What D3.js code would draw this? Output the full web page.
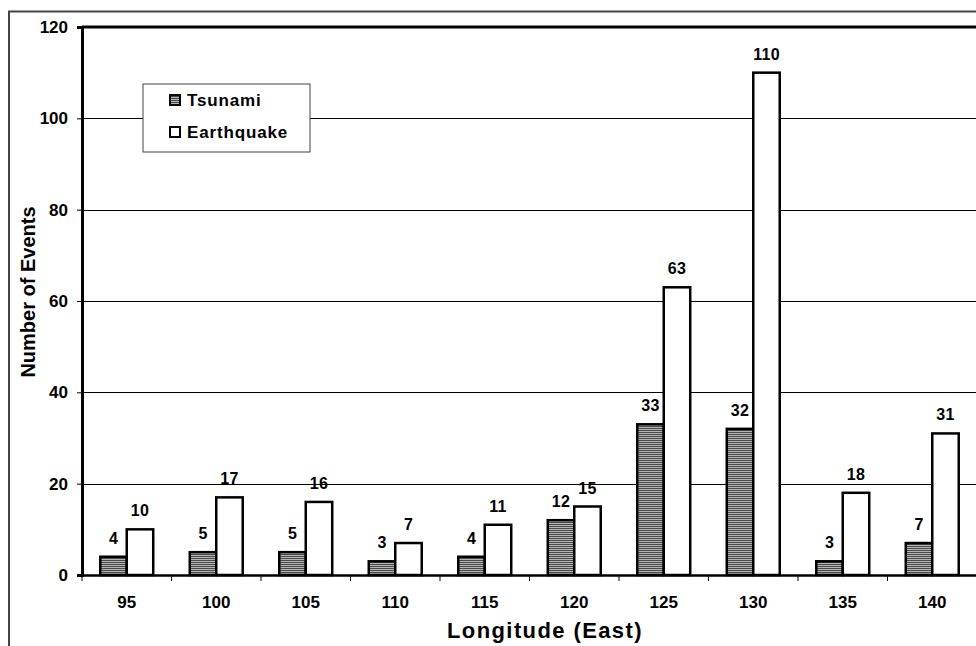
<!DOCTYPE html>
<html>
<head>
<meta charset="utf-8">
<script src="https://cdn.jsdelivr.net/npm/d3@7"></script>
<style>
  body { margin: 0; background: #fff; }
  svg { display: block; font-family: Arial, "Liberation Sans", sans-serif; }
</style>
</head>
<body>
<div id="chart"></div>
<script>
const longitudes = ['95', '100', '105', '110', '115', '120', '125', '130', '135', '140'];
const tsunamiCounts = [4, 5, 5, 3, 4, 12, 33, 32, 3, 7];
const earthquakeCounts = [10, 17, 16, 7, 11, 15, 63, 110, 18, 31];
const yTicks = [0, 20, 40, 60, 80, 100, 120];
const seriesNames = ['Tsunami', 'Earthquake'];

const width = 976, height = 646;
const margin = { top: 27, right: -1, bottom: 69, left: 82 };
const fontFamily = 'Arial, "Liberation Sans", sans-serif';

const svg = d3.select('#chart').append('svg')
  .attr('width', width)
  .attr('height', height);

// stripe fill for tsunami bars
const pattern = svg.append('defs').append('pattern')
  .attr('id', 'stripes')
  .attr('patternUnits', 'userSpaceOnUse')
  .attr('width', 4).attr('height', 2);
pattern.append('rect').attr('width', 4).attr('height', 2).attr('fill', '#b4b4b4');
pattern.append('rect').attr('width', 4).attr('height', 1).attr('fill', '#4a4a4a');

// outer chart border (cut off at right/bottom)
svg.append('path')
  .attr('d', `M9,${height + 5}V11.5H${width + 5}`)
  .attr('fill', 'none')
  .attr('stroke', '#444')
  .attr('stroke-width', 2);

const x = d3.scaleBand()
  .domain(longitudes)
  .range([margin.left, width - margin.right])
  .paddingInner(0).paddingOuter(0);

const y = d3.scaleLinear()
  .domain([0, 120])
  .range([height - margin.bottom - 2, margin.top]);

const inner = d3.scaleBand()
  .domain(seriesNames)
  .range([0, x.bandwidth()])
  .paddingOuter(0.69).paddingInner(0);

// gridlines
svg.append('g')
  .selectAll('line')
  .data(yTicks.filter(d => d > 0 && d < 120))
  .join('line')
  .attr('x1', margin.left).attr('x2', width)
  .attr('y1', d => Math.round(y(d)) + 0.5).attr('y2', d => Math.round(y(d)) + 0.5)
  .attr('stroke', '#000').attr('stroke-width', 1);

// top border of plot area
svg.append('line')
  .attr('x1', margin.left).attr('x2', width)
  .attr('y1', y(120)).attr('y2', y(120))
  .attr('stroke', '#000').attr('stroke-width', 3);

// y axis
const yAxis = svg.append('g')
  .attr('transform', `translate(${margin.left},0)`)
  .call(d3.axisLeft(y).tickValues(yTicks).tickSize(5).tickPadding(9));
yAxis.select('.domain').attr('stroke-width', 3);
yAxis.selectAll('.tick line').attr('stroke-width', 1);
yAxis.selectAll('text')
  .attr('font-size', 17).attr('font-weight', 'bold').attr('fill', '#000')
  .attr('font-family', fontFamily);

// bars
const groups = svg.append('g')
  .selectAll('g')
  .data(longitudes)
  .join('g')
  .attr('transform', d => `translate(${x(d)},0)`);

const barData = (d, i) => [
  { key: 'Tsunami', value: tsunamiCounts[i] },
  { key: 'Earthquake', value: earthquakeCounts[i] }
];

groups.selectAll('rect')
  .data(barData)
  .join('rect')
  .attr('x', d => inner(d.key))
  .attr('width', inner.bandwidth())
  .attr('y', d => y(d.value))
  .attr('height', d => y(0) - y(d.value))
  .attr('fill', d => d.key === 'Tsunami' ? 'url(#stripes)' : '#fff')
  .attr('stroke', '#000')
  .attr('stroke-width', 2.5);

groups.selectAll('text')
  .data(barData)
  .join('text')
  .attr('x', d => inner(d.key) + inner.bandwidth() / 2)
  .attr('y', d => y(d.value) - 13)
  .attr('text-anchor', 'middle')
  .attr('font-size', 16).attr('font-weight', 'bold')
  .attr('letter-spacing', 0.3)
  .text(d => d.value);

// x axis
const xAxis = svg.append('g')
  .attr('transform', `translate(0,${y(0)})`)
  .call(d3.axisBottom(x).tickSize(0).tickPadding(21));
xAxis.select('.domain').attr('stroke-width', 2.5);
xAxis.selectAll('text')
  .attr('font-size', 17).attr('font-weight', 'bold').attr('fill', '#000')
  .attr('font-family', fontFamily);
xAxis.selectAll('.sep')
  .data(longitudes)
  .join('line')
  .attr('class', 'sep')
  .attr('x1', d => x(d)).attr('x2', d => x(d))
  .attr('y1', 0).attr('y2', 6)
  .attr('stroke', '#000').attr('stroke-width', 1);

// axis titles
svg.append('text')
  .attr('x', 545)
  .attr('y', 638)
  .attr('text-anchor', 'middle')
  .attr('font-size', 22).attr('font-weight', 'bold')
  .attr('letter-spacing', 1.4)
  .text('Longitude (East)');

svg.append('text')
  .attr('transform', 'translate(35,292) rotate(-90)')
  .attr('text-anchor', 'middle')
  .attr('font-size', 20).attr('font-weight', 'bold')
  .text('Number of Events');

// legend
const legend = svg.append('g').attr('transform', 'translate(143,84)');
legend.append('rect')
  .attr('width', 167).attr('height', 68)
  .attr('fill', '#fff').attr('stroke', '#444').attr('stroke-width', 1);
const items = legend.selectAll('g')
  .data(seriesNames)
  .join('g')
  .attr('transform', (d, i) => `translate(27,${16 + i * 32})`);
items.append('rect')
  .attr('x', 0).attr('y', -5)
  .attr('width', 10).attr('height', 10)
  .attr('fill', d => d === 'Tsunami' ? 'url(#stripes)' : '#fff')
  .attr('stroke', '#000').attr('stroke-width', 2);
items.append('text')
  .attr('x', 17).attr('y', 6)
  .attr('font-size', 17).attr('font-weight', 'bold')
  .attr('letter-spacing', 0.85)
  .text(d => d);
</script>
</body>
</html>
